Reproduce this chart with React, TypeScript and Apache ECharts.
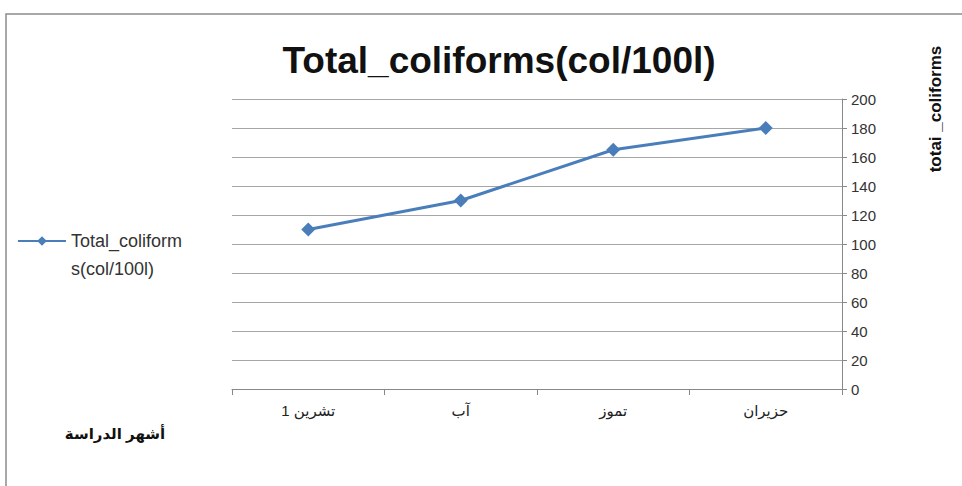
import React, { useEffect, useRef } from "react";
import * as echarts from "echarts";

const categories = ["تشرين 1", "آب", "تموز", "حزيران"];
const totalColiforms = [110, 130, 165, 180];
const seriesName = "Total_coliforms(col/100l)";
const titleText = "Total_coliforms(col/100l)";
const yAxisTitle = "totai _coliforms";
const xAxisTitle = "أشهر الدراسة";

export default function App() {
  const ref = useRef<HTMLDivElement>(null);
  useEffect(() => {
    if (!ref.current) return;
    const chart = echarts.init(ref.current, undefined, { renderer: "svg" });
    const font = "'Liberation Sans', 'DejaVu Sans', sans-serif";
    chart.setOption({
      animation: false,
      backgroundColor: "#ffffff",
      textStyle: { fontFamily: font },
      title: {
        text: titleText,
        left: 494,
        top: 37,
        textAlign: "center",
        textStyle: { fontSize: 37, fontWeight: "bold", color: "#111", fontFamily: font },
      },
      legend: {
        left: 12,
        top: 194,
        orient: "vertical",
        itemWidth: 48,
        itemHeight: 12,
        itemGap: 0,
        formatter: () => "\u00a0\nTotal_coliform\ns(col/100l)",
        textStyle: { fontSize: 18, color: "#333", lineHeight: 28, fontFamily: font },
        data: [{ name: seriesName }],
      },
      grid: { left: 232, right: 120, top: 99, bottom: 97 },
      xAxis: {
        type: "category",
        data: categories,
        boundaryGap: true,
        axisLine: { lineStyle: { color: "#888", width: 1 } },
        axisTick: { show: true, length: 6, lineStyle: { color: "#888" } },
        axisLabel: { fontSize: 15, color: "#222", margin: 14, fontFamily: font },
      },
      yAxis: {
        type: "value",
        position: "right",
        min: 0,
        max: 200,
        interval: 20,
        axisLine: { show: true, lineStyle: { color: "#888", width: 1 } },
        axisTick: { show: true, length: 5, inside: false, lineStyle: { color: "#888" } },
        axisLabel: { fontSize: 15, color: "#333", margin: 9, fontFamily: font },
        splitLine: { show: true, lineStyle: { color: "#a6a6a6", width: 1 } },
      },
      series: [
        {
          name: seriesName,
          type: "line",
          data: totalColiforms,
          symbol: "diamond",
          symbolSize: 14,
          lineStyle: { color: "#4a7ebb", width: 3 },
          itemStyle: { color: "#4a7ebb" },
        },
      ],
      graphic: [
        {
          type: "rect",
          shape: { x: 6, y: 14, width: 1000, height: 520 },
          style: { fill: "none", stroke: "#8c8c8c", lineWidth: 1.5 },
          silent: true,
        },
        {
          type: "text",
          x: 935,
          y: 109,
          rotation: Math.PI / 2,
          style: {
            text: yAxisTitle,
            fontSize: 17,
            fontWeight: "bold",
            fill: "#111",
            align: "center",
            verticalAlign: "middle",
            fontFamily: font,
          },
        },
        {
          type: "text",
          x: 115,
          y: 433,
          style: {
            text: xAxisTitle,
            fontSize: 15,
            fontWeight: "bold",
            fill: "#111",
            align: "center",
            verticalAlign: "middle",
            fontFamily: font,
          },
        },
      ],
    });
    return () => chart.dispose();
  }, []);
  return (
    <div
      ref={ref}
      style={{ position: "fixed", left: 0, top: 0, width: 962, height: 486 }}
    />
  );
}
